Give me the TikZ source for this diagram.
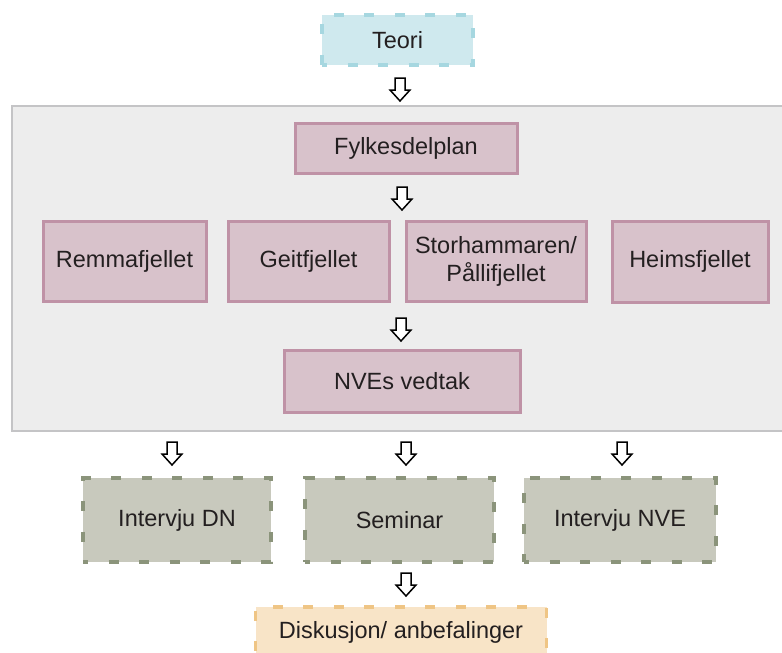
\documentclass[tikz,border=0pt]{standalone}
\usepackage{fontspec}
\setmainfont{Liberation Sans}
\definecolor{txt}{HTML}{231F20}
\definecolor{teofill}{HTML}{CFE9EE}
\definecolor{teodraw}{HTML}{A6D7E0}
\definecolor{pinkfill}{HTML}{D8C2CB}
\definecolor{pinkdraw}{HTML}{BF92A6}
\definecolor{greenfill}{HTML}{C8C9BD}
\definecolor{greendraw}{HTML}{8B947B}
\definecolor{orfill}{HTML}{F8E4C7}
\definecolor{ordraw}{HTML}{EFC585}
\definecolor{panelfill}{HTML}{EDEDED}
\definecolor{paneldraw}{HTML}{C4C4C6}
\tikzset{
  box/.style={rectangle, inner sep=0pt, text=txt, align=center,
    font=\fontsize{23.5}{28}\selectfont},
  pinkbox/.style={box, fill=pinkfill, draw=pinkdraw, line width=3pt},
  dashbox/.style={box, line width=3.2pt, dash pattern=on 10pt off 20.5pt, dash phase=5pt},
  teobox/.style={dashbox, fill=teofill, draw=teodraw},
  greenbox/.style={dashbox, fill=greenfill, draw=greendraw},
  orbox/.style={dashbox, fill=orfill, draw=ordraw},
  pics/downarrow/.style={code={
    \draw[line width=1.5pt, fill=white, draw=black, line join=miter]
      (-5,0) -- (5,0) -- (5,-12) -- (10,-12) -- (0,-23) -- (-10,-12) -- (-5,-12) -- cycle;
  }}
}
\begin{document}
\begin{tikzpicture}[x=1pt,y=1pt]
\useasboundingbox (0,0) rectangle (782,-653);
\clip (0,0) rectangle (782,-653);
% panel
\node[rectangle, fill=panelfill, draw=paneldraw, line width=2.5pt, minimum width=773pt, minimum height=325pt, inner sep=0pt] (panel) at (398.5,-268.5) {};
% nodes
\node[teobox, minimum width=151pt, minimum height=50pt] (teori) at (397.5,-40) {Teori};
\node[pinkbox, minimum width=222pt, minimum height=50pt] (fylke) at (406,-148) {Fylkesdelplan};
\node[pinkbox, minimum width=163pt, minimum height=80pt] (remma) at (124.5,-261) {Remmafjellet};
\node[pinkbox, minimum width=161pt, minimum height=80pt] (geit) at (308.5,-261) {Geitfjellet};
\node[pinkbox, minimum width=180pt, minimum height=80pt] (stor) at (496,-261) {Storhammaren/\\Pållifjellet};
\node[pinkbox, minimum width=156pt, minimum height=81pt] (heims) at (690,-261.5) {Heimsfjellet};
\node[pinkbox, minimum width=236pt, minimum height=62pt] (nve) at (402,-381) {NVEs vedtak};
\node[greenbox, minimum width=188pt, minimum height=84pt] (idn) at (177,-520) {Intervju DN};
\node[greenbox, minimum width=189pt, minimum height=84pt] (sem) at (399.5,-520) {Seminar};
\node[greenbox, minimum width=192pt, minimum height=84pt] (invnve) at (620,-520) {Intervju NVE};
\node[orbox, minimum width=291pt, minimum height=50pt] (disk) at (401,-632) {Diskusjon/ anbefalinger};
% arrows
\pic at (400,-78) {downarrow};
\pic at (402,-187) {downarrow};
\pic at (401,-318) {downarrow};
\pic at (172,-442) {downarrow};
\pic at (406,-442) {downarrow};
\pic at (622,-442) {downarrow};
\pic at (406,-573) {downarrow};
\end{tikzpicture}
\end{document}
